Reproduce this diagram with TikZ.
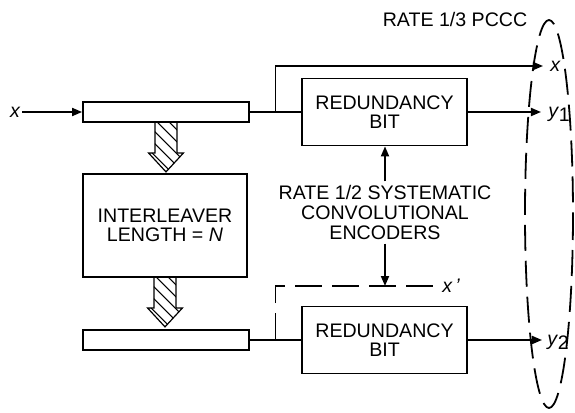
\documentclass[tikz,border=0pt]{standalone}
\usepackage{fontspec}
\setmainfont{Liberation Sans}
\usepackage{tikz}
\usetikzlibrary{arrows.meta,calc}
\tikzset{
  >={Triangle[length=5pt,width=4pt]},
  every node/.style={font=\fontsize{9.8}{9.8}\selectfont,inner sep=1pt},
  wire/.style={line width=0.9pt},
  sig/.style={wire,->},
  longdash/.style={wire,dash pattern=on 13.5pt off 5pt},
  reg/.style={draw,line width=0.9pt,minimum width=83pt,minimum height=10pt},
  block/.style={draw,line width=0.9pt,align=center,minimum width=82.5pt,minimum height=33.5pt},
  hatchline/.style={line width=0.55pt},
  ring/.style={line width=0.9pt,dash pattern=on 13pt off 5pt}
}
\newcommand{\fatarrow}[1]{%
  \begin{scope}[shift={(#1.south)}]
    \begin{scope}
      \clip (-11,0) -- (-11,30) -- (-17.5,30) -- (0,49) -- (17.5,30) -- (11,30) -- (11,0) -- cycle;
      \foreach \k in {-36,-24,...,48} \draw[hatchline] (-20,\k) -- (20,\k+40);
    \end{scope}
    \draw[line width=0.6pt] (-11,0) -- (-11,30) -- (-17.5,30) -- (0,49) -- (17.5,30) -- (11,30) -- (11,0);
  \end{scope}}

\begin{document}
\begin{tikzpicture}[x=0.5pt,y=-0.5pt]
  \useasboundingbox (0,0) rectangle (575,413);

  \node (xin) at (15,112) {\itshape x};
  \node[reg] (reg1) at (166,112) {};
  \node[block,minimum width=82pt,minimum height=51.5pt] (ileave) at (165,225.5) {INTERLEAVER\\LENGTH = \textit{N}};
  \node[reg] (reg2) at (166,340) {};

  \node[block] (rb1) at (384.5,112) {REDUNDANCY\\BIT};
  \node[block] (rb2) at (384.5,340) {REDUNDANCY\\BIT};
  \node[align=center,inner sep=2pt] (enc) at (385,212.5) {RATE 1/2 SYSTEMATIC\\CONVOLUTIONAL\\ENCODERS};
  \node (pccc) at (455,19.5) {RATE 1/3 PCCC};

  \coordinate (jtop) at ($(reg1.east)!0.5!(rb1.west)$);
  \coordinate (jbot) at ($(reg2.east)!0.5!(rb2.west)$);
  \coordinate (outx) at (543,66);
  \coordinate (outy1) at (541,112);
  \coordinate (outy2) at (542,340);
  \coordinate (xpend) at (438,286);

  \node[anchor=west] (lx) at (548,66) {\itshape x};
  \node[anchor=west] (ly1) at (546,114) {\itshape y\kern0.3pt\raisebox{-2pt}{\upshape 1}};
  \node[anchor=west] (ly2) at (545,342) {\itshape y\kern0.3pt\raisebox{-2pt}{\upshape 2}};
  \node[anchor=west] (lxp) at (440,286) {\itshape x\,'};

  \draw[sig] (xin) -- (reg1);
  \draw[wire] (reg1) -- (rb1);
  \draw[sig] (jtop) |- (outx);
  \draw[sig] (rb1) -- (outy1);
  \draw[wire] (reg2) -- (rb2);
  \draw[longdash] (jbot) |- (xpend);
  \draw[sig] (rb2) -- (outy2);
  \draw[sig] (enc.north) -- (enc.north |- rb1.south);
  \draw[sig] (enc.south) -- (enc.south |- xpend);

  \fatarrow{reg1}
  \fatarrow{ileave}

  \draw[ring] (549,214) ellipse [x radius=24,y radius=194];
\end{tikzpicture}
\end{document}
